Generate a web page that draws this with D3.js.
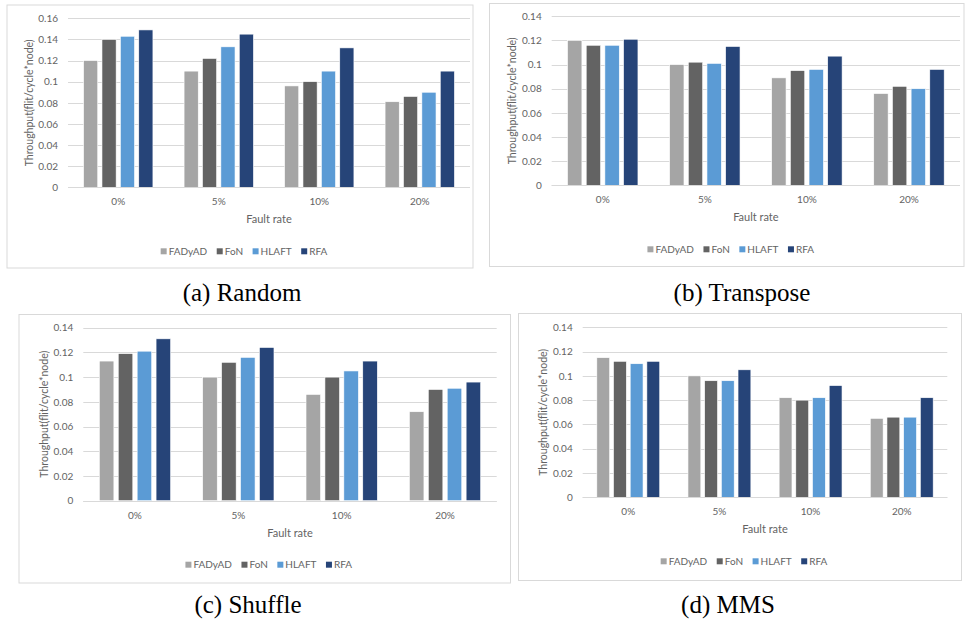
<!DOCTYPE html>
<html>
<head>
<meta charset="utf-8">
<script src="https://cdn.jsdelivr.net/npm/d3@7"></script>
<style>
  body { margin: 0; background: #fff; }
  svg { display: block; }
</style>
</head>
<body>
<div id="chart"></div>
<script>
// data

var faultRates = ["0%", "5%", "10%", "20%"];
var seriesNames = ["FADyAD", "FoN", "HLAFT", "RFA"];
var seriesColors = ["#a5a5a5", "#636363", "#5b9bd5", "#264478"];

// one row per series (FADyAD, FoN, HLAFT, RFA), one value per fault rate
var randomVals = [
    [0.120, 0.110, 0.096, 0.081],
    [0.140, 0.122, 0.100, 0.086],
    [0.143, 0.133, 0.110, 0.090],
    [0.149, 0.145, 0.132, 0.110]
];
var transposeVals = [
    [0.120, 0.100, 0.089, 0.076],
    [0.116, 0.102, 0.095, 0.082],
    [0.116, 0.101, 0.096, 0.080],
    [0.121, 0.115, 0.107, 0.096]
];
var shuffleVals = [
    [0.113, 0.100, 0.086, 0.072],
    [0.119, 0.112, 0.100, 0.090],
    [0.121, 0.116, 0.105, 0.091],
    [0.131, 0.124, 0.113, 0.096]
];
var mmsVals = [
    [0.115, 0.100, 0.082, 0.065],
    [0.112, 0.096, 0.080, 0.066],
    [0.110, 0.096, 0.082, 0.066],
    [0.112, 0.105, 0.092, 0.082]
];

var yTicksA = [0, 0.02, 0.04, 0.06, 0.08, 0.1, 0.12, 0.14, 0.16];
var yTicksB = [0, 0.02, 0.04, 0.06, 0.08, 0.1, 0.12, 0.14];

var yTitle = "Throughput(flit/cycle*node)";
var xTitle = "Fault rate";
var captions = ["(a) Random", "(b) Transpose", "(c) Shuffle", "(d) MMS"];

// layout of the four panels (frame box + plot area)
var panels = [
    { vals: randomVals,    ticks: yTicksA, box: [7, 5, 473, 268],         plot: [68, 18.3, 470, 187.3],    cap: [242, 301] },
    { vals: transposeVals, ticks: yTicksB, box: [489.5, 3.5, 964, 266.5], plot: [551.7, 16.3, 960, 185.3], cap: [742, 301] },
    { vals: shuffleVals,   ticks: yTicksB, box: [19, 314.5, 510.5, 583],  plot: [83.3, 327.7, 496.7, 500.7], cap: [248, 613] },
    { vals: mmsVals,       ticks: yTicksB, box: [518.5, 313.5, 961.5, 580.5], plot: [582.7, 327.3, 947.3, 497.3], cap: [728, 613] }
];

var WD = 968, HT = 623;
var txtFont = "Lato, 'Open Sans', sans-serif";
var txtColor = "#636363";

var svg = d3.select("#chart").append("svg")
    .attr("width", WD)
    .attr("height", HT);

svg.append("rect").attr("width", WD).attr("height", HT).attr("fill", "#fff");

var fmt = function(d) { return d === 0 ? "0" : String(+d.toFixed(2)); };

panels.forEach(function(p, i) {
    var g = svg.append("g");
    var left = p.plot[0], top = p.plot[1], right = p.plot[2], bottom = p.plot[3];

    // frame
    g.append("rect")
        .attr("x", p.box[0]).attr("y", p.box[1])
        .attr("width", p.box[2] - p.box[0]).attr("height", p.box[3] - p.box[1])
        .attr("fill", "none").attr("stroke", "#d9d9d9").attr("stroke-width", 1);

    var y = d3.scaleLinear()
        .domain([0, d3.max(p.ticks)])
        .range([bottom, top]);

    var x0 = d3.scaleBand()
        .domain(faultRates)
        .range([left, right])
        .paddingInner(0.31)
        .paddingOuter(0.155);

    var x1 = d3.scaleBand()
        .domain(seriesNames)
        .range([0, x0.bandwidth()])
        .paddingInner(0.23);

    // gridlines
    g.selectAll(".grid")
        .data(p.ticks)
        .enter().append("line")
        .attr("x1", left).attr("x2", right)
        .attr("y1", function(d) { return Math.round(y(d)) + 0.5; })
        .attr("y2", function(d) { return Math.round(y(d)) + 0.5; })
        .attr("stroke", "#d9d9d9").attr("stroke-width", 1);

    // y axis labels
    var yAxis = g.append("g")
        .attr("transform", "translate(" + left + ",0)")
        .call(d3.axisLeft(y).tickValues(p.ticks).tickFormat(fmt).tickSize(0).tickPadding(10));
    yAxis.select(".domain").remove();
    yAxis.selectAll("text")
        .attr("fill", txtColor)
        .style("font-family", txtFont)
        .style("font-size", "10px");

    // bars
    seriesNames.forEach(function(s, si) {
        g.selectAll(".bar" + si)
            .data(p.vals[si])
            .enter().append("rect")
            .attr("x", function(d, ci) { return x0(faultRates[ci]) + x1(s); })
            .attr("y", function(d) { return y(d); })
            .attr("width", x1.bandwidth())
            .attr("height", function(d) { return bottom - y(d); })
            .attr("fill", seriesColors[si])
            .attr("stroke", "#fff")
            .attr("stroke-width", 0.6);
    });

    // x axis labels
    var xAxis = g.append("g")
        .attr("transform", "translate(0," + bottom + ")")
        .call(d3.axisBottom(x0).tickSize(0).tickPadding(11));
    xAxis.select(".domain").remove();
    xAxis.selectAll("text")
        .attr("fill", txtColor)
        .style("font-family", txtFont)
        .style("font-size", "10px");

    // baseline over the bars
    g.append("line")
        .attr("x1", left).attr("x2", right)
        .attr("y1", Math.round(bottom) + 0.5).attr("y2", Math.round(bottom) + 0.5)
        .attr("stroke", "#d9d9d9");

    // axis titles
    g.append("text")
        .attr("transform", "translate(" + (left - 39) + "," + ((top + bottom) / 2) + ") rotate(-90)")
        .attr("text-anchor", "middle")
        .attr("dy", "0.35em")
        .attr("fill", txtColor)
        .style("font-family", txtFont)
        .style("font-size", "10.5px")
        .text(yTitle);

    g.append("text")
        .attr("x", (left + right) / 2)
        .attr("y", bottom + 32)
        .attr("dy", "0.35em")
        .attr("text-anchor", "middle")
        .attr("fill", txtColor)
        .style("font-family", txtFont)
        .style("font-size", "11px")
        .text(xTitle);

    // legend
    var lg = g.append("g");
    var lx = 0;
    seriesNames.forEach(function(s, si) {
        var item = lg.append("g").attr("transform", "translate(" + lx + ",0)");
        item.append("rect")
            .attr("x", 0).attr("y", -3)
            .attr("width", 6).attr("height", 6)
            .attr("fill", seriesColors[si]);
        var t = item.append("text")
            .attr("x", 8)
            .attr("dy", "0.35em")
            .attr("fill", txtColor)
            .style("font-family", txtFont)
            .style("font-size", "10px")
            .text(s);
        lx += 8 + t.node().getComputedTextLength() + 9.5;
    });
    var legW = lx - 9.5;
    var cx = (p.box[0] + p.box[2]) / 2 + 4;
    lg.attr("transform", "translate(" + (cx - legW / 2) + "," + (bottom + 64) + ")");

    // caption under the panel
    svg.append("text")
        .attr("x", p.cap[0])
        .attr("y", p.cap[1])
        .attr("text-anchor", "middle")
        .attr("fill", "#000")
        .style("font-family", "'Liberation Serif', 'Times New Roman', serif")
        .style("font-size", "25px")
        .text(captions[i]);
});
</script>
</body>
</html>
